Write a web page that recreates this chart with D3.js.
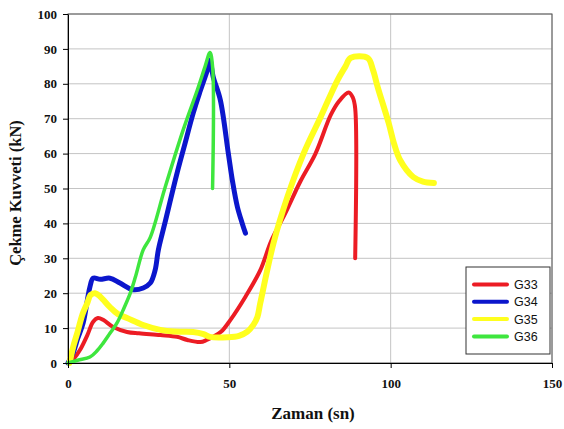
<!DOCTYPE html>
<html><head><meta charset="utf-8">
<script src="https://cdn.jsdelivr.net/npm/d3@7"></script>
<style>body{margin:0;background:#fff}svg{display:block}</style>
</head><body>
<svg id="c" width="564" height="429"></svg>
<script>
const xTicks=[0,50,100,150];
const yTicks=[0,10,20,30,40,50,60,70,80,90,100];
const seriesNames=["G33","G34","G35","G36"];
const seriesColors=["#ec1c24","#0b16cc","#ffff1e","#3ee63e"];
const g33=[[0,0],[2,1.5],[3.7,3.7],[6,8],[7.8,11.8],[9.3,12.9],[11,12.3],[14,10.3],[18.3,8.9],[22,8.5],[28.6,8.0],[33.8,7.5],[37,6.6],[41,6.0],[43,6.6],[45,7.5],[47.5,9],[50.3,12.3],[55,19],[59.6,26.6],[63,35],[67.4,43],[72,52],[76.7,60],[81.4,71],[84,75],[87,77.5],[88.3,76],[89,73],[89,30]];
const g34=[[0,0],[1.6,2.9],[3,7],[4.7,11.5],[6,18],[6.8,21.8],[7.8,24.3],[10,24],[13,24.3],[16.1,22.9],[20.2,21],[23.3,21.5],[25.5,22.9],[27,26.6],[28,32.4],[30,40],[33.8,54.4],[36,62],[38.8,71.6],[41,78],[43.5,84.8],[44,86.8],[45,82],[47.2,75.4],[49.7,60],[51,52],[52.5,44.7],[54,40],[55,37.2]];
const g35=[[0.5,0],[1.6,4.6],[3,9],[4.5,14],[5.9,17],[7,19.5],[8.4,20],[10,19],[13,16],[15.5,14],[18.3,12.9],[23.3,10.9],[28.6,9.5],[33,9],[38.8,8.9],[42,8.3],[44,7.5],[49.4,7.4],[53,7.8],[55.6,9],[57.5,11],[58.7,13.2],[59.6,17.2],[63.7,34.4],[68,47.6],[73,60],[78.3,70.5],[83.5,81],[86,85],[87.6,87.4],[92.9,87.4],[94.5,84],[96,79],[99.4,68.7],[101,63],[103,58],[107,53.3],[110,52],[113.4,51.6]];
const g36=[[0,0],[3,0.8],[6.8,1.7],[9,3.5],[10.9,5.7],[13,8.5],[15.2,11.5],[17,15],[19.3,20],[21,25],[23.3,32.4],[25.5,36],[30,50],[35.7,66.8],[40,78],[42.5,85],[44,89],[44.8,85],[44.8,50]];
const seriesData=[g33,g34,g35,g36];
const widths=[4,5,6,3.5];

const svg=d3.select("#c");
const x=d3.scaleLinear().domain([0,150]).range([68,552]);
const y=d3.scaleLinear().domain([0,100]).range([363,14]);

svg.append("g").selectAll("line").data(yTicks.slice(1)).join("line")
 .attr("x1",x(0)).attr("x2",x(150)).attr("y1",d=>y(d)).attr("y2",d=>y(d))
 .attr("stroke","#c4c4c4").attr("stroke-width",1);
svg.append("g").selectAll("line").data(xTicks.slice(1)).join("line")
 .attr("x1",d=>x(d)).attr("x2",d=>x(d)).attr("y1",y(0)).attr("y2",y(100))
 .attr("stroke","#c4c4c4").attr("stroke-width",1);
svg.append("rect").attr("x",x(0)).attr("y",y(100)).attr("width",x(150)-x(0)).attr("height",y(0)-y(100))
 .attr("fill","none").attr("stroke","#555").attr("stroke-width",1);

const line=d3.line().x(d=>x(d[0])).y(d=>y(d[1])).curve(d3.curveCatmullRom.alpha(0.5));
seriesData.forEach((s,i)=>{
  svg.append("path").datum(s).attr("d",line).attr("fill","none")
   .attr("stroke",seriesColors[i]).attr("stroke-width",widths[i])
   .attr("stroke-linejoin","round").attr("stroke-linecap","round");
});

const xa=svg.append("g").attr("transform",`translate(0,${y(0)})`)
 .call(d3.axisBottom(x).tickValues(xTicks).tickSize(5).tickPadding(6).tickSizeOuter(0));
const ya=svg.append("g").attr("transform",`translate(${x(0)},0)`)
 .call(d3.axisLeft(y).tickValues(yTicks).tickSize(5).tickPadding(6).tickSizeOuter(0));
[xa,ya].forEach(a=>{
  a.select(".domain").attr("stroke","#000");
  a.selectAll(".tick line").attr("stroke","#000");
  a.selectAll("text").attr("font-family","Liberation Serif, Times New Roman, serif")
   .attr("font-weight","bold").attr("font-size","13px").attr("fill","#111");
});
xa.selectAll("text").attr("dy","1.1em");

svg.append("text").attr("x",313).attr("y",419).attr("text-anchor","middle")
 .attr("font-family","Liberation Serif, Times New Roman, serif").attr("font-weight","bold")
 .attr("font-size","17px").attr("fill","#111").text("Zaman (sn)");
svg.append("text").attr("transform","translate(21,193) rotate(-90)").attr("text-anchor","middle")
 .attr("font-family","Liberation Serif, Times New Roman, serif").attr("font-weight","bold")
 .attr("font-size","16.5px").attr("fill","#111").text("Çekme Kuvveti (kN)");

const lg=svg.append("g");
lg.append("rect").attr("x",466).attr("y",267).attr("width",84).attr("height",87)
 .attr("fill","#fff").attr("stroke","#333").attr("stroke-width",1);
seriesNames.forEach((n,i)=>{
  const yy=284.5+i*17.3;
  lg.append("line").attr("x1",474).attr("x2",507).attr("y1",yy).attr("y2",yy)
   .attr("stroke",seriesColors[i]).attr("stroke-width",4).attr("stroke-linecap","round");
  lg.append("text").attr("x",514).attr("y",yy+4.5).attr("font-family","Liberation Sans, Arial, sans-serif")
   .attr("font-size","12.5px").attr("fill","#111").text(n);
});
</script>
</body></html>
